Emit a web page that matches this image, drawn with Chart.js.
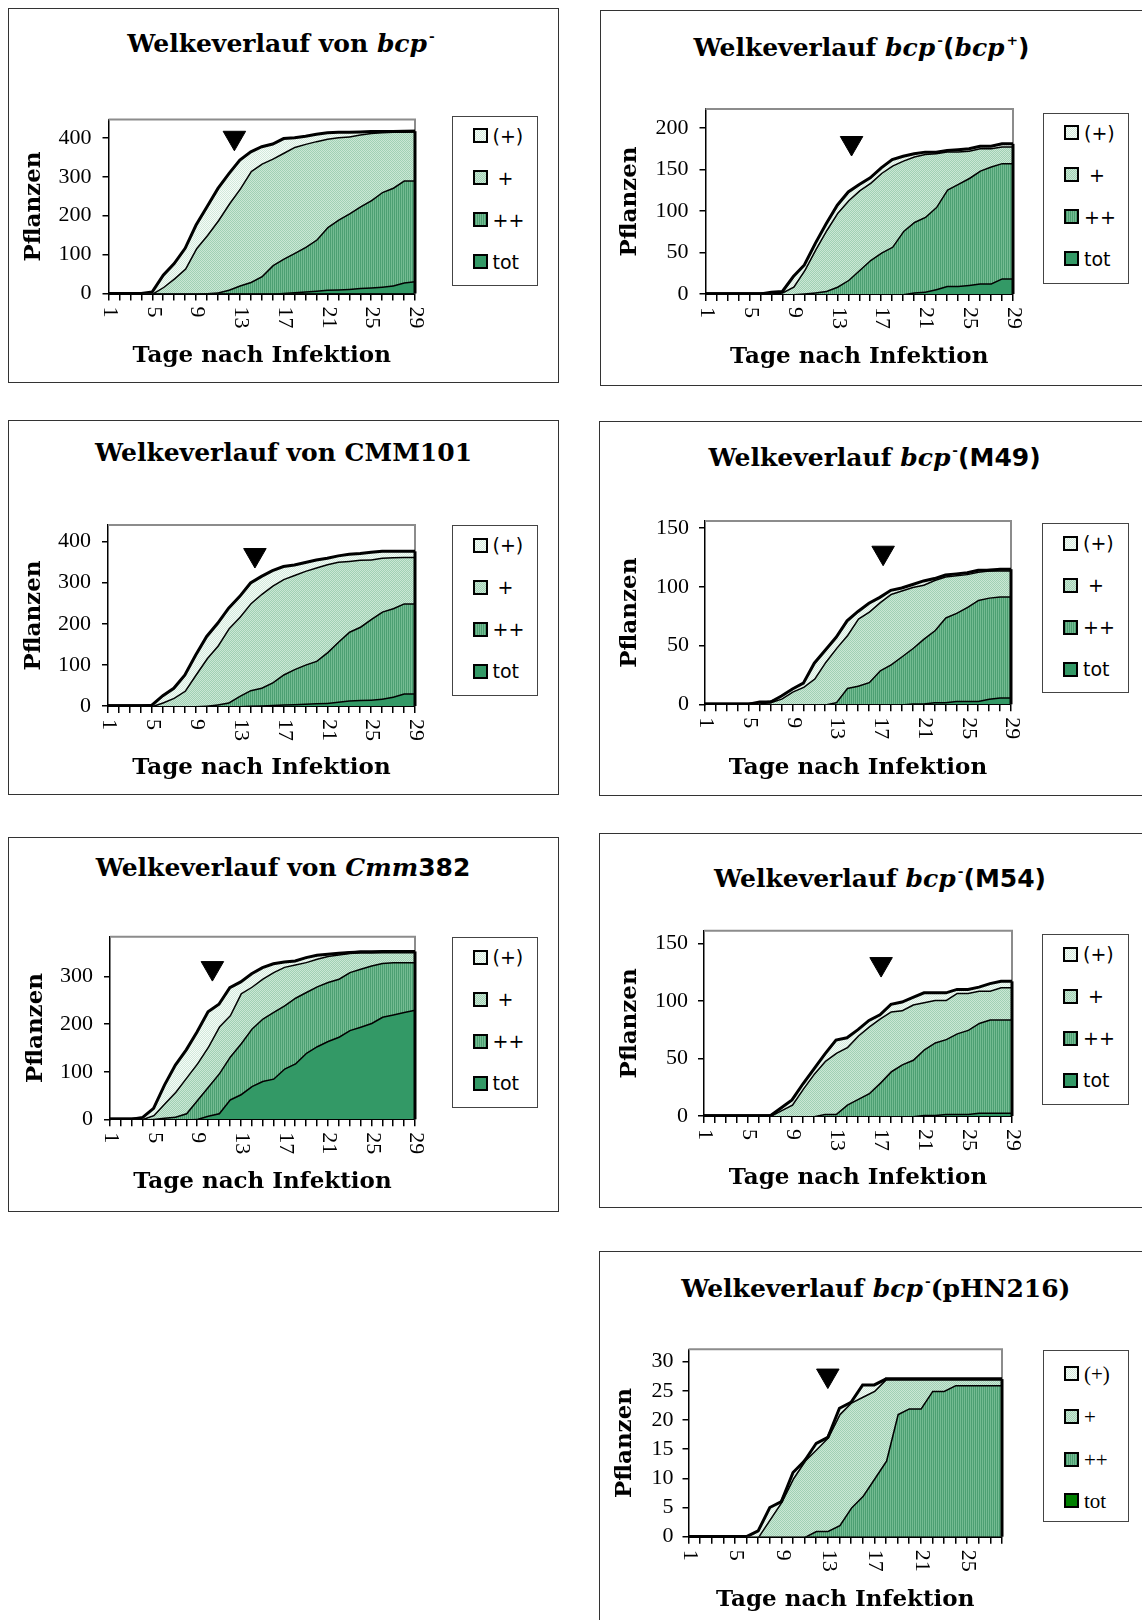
<!DOCTYPE html>
<html>
<head>
<meta charset="utf-8">
<script src="https://cdn.jsdelivr.net/npm/chart.js@4.4.1/dist/chart.umd.min.js"></script>
<style>
  body { margin: 0; background: #fff; width: 1142px; height: 1620px; overflow: hidden; position: relative; }
  .box { position: absolute; border: 1.5px solid #333; box-sizing: border-box; }
  .title { position: absolute; transform: translate(-50%, -50%); white-space: nowrap;
           font: bold 25px "DejaVu Serif", serif; color: #000; }
  .title sup { font-size: 55%; vertical-align: 0.8em; line-height: 0; margin-left: 2px; }
  .sans { font-family: "DejaVu Sans", sans-serif; }
  .legend { position: absolute; border: 1.5px solid #444; box-sizing: border-box; background: #fff; }
  .legend .sw { position: absolute; width: 15px; height: 15px; border: 2.5px solid #000; box-sizing: border-box; }
  .legend .lb { position: absolute; height: 22px; line-height: 22px; font: 19px "DejaVu Sans", sans-serif; color: #000; white-space: nowrap; }
  canvas { position: absolute; }
</style>
</head>
<body>
<script>
// ===== DATA =====
const days29 = ["1","2","3","4","5","6","7","8","9","10","11","12","13","14","15","16","17","18","19","20","21","22","23","24","25","26","27","28","29"];
const days28 = ["1","2","3","4","5","6","7","8","9","10","11","12","13","14","15","16","17","18","19","20","21","22","23","24","25","26","27","28"];
const seriesNames = ["(+)", "+", "++", "tot"];

// Welkeverlauf von bcp-
const p1_spur = [0,0,0,0,4,47,77,116,176,223,270,308,343,364,377,384,398,400,404,409,413,414,414,415,416,416,416,417,417];
const p1_plus = [0,0,0,0,0,17,39,64,116,150,188,231,270,315,334,347,362,377,385,392,398,402,404,409,413,415,416,416,417];
const p1_pp   = [0,0,0,0,0,0,0,0,0,1,3,10,21,30,45,73,90,105,120,139,171,190,206,224,240,261,272,291,291];
const p1_tot  = [0,0,0,0,0,0,0,0,0,0,0,0,0,0,0,0,2,4,6,8,10,11,12,15,16,18,21,29,32];

// Welkeverlauf bcp-(bcp+)
const p2_spur = [0,0,0,0,0,0,2,3,21,35,61,85,107,123,132,140,152,162,166,169,171,171,173,174,175,178,178,181,181];
const p2_plus = [0,0,0,0,0,0,1,2,9,29,54,77,98,113,125,134,146,155,161,166,169,170,172,172,173,176,176,178,178];
const p2_pp   = [0,0,0,0,0,0,0,0,0,1,2,4,9,17,29,41,50,57,76,87,93,105,126,133,140,149,154,158,158];
const p2_tot  = [0,0,0,0,0,0,0,0,0,0,0,0,0,0,0,0,0,0,0,2,3,6,10,10,11,13,13,19,19];

// Welkeverlauf von CMM101
const p3_spur = [0,0,0,0,2,25,43,75,124,169,201,238,266,299,315,329,339,343,349,355,359,365,369,371,374,376,376,376,376];
const p3_plus = [0,0,0,0,0,9,20,37,77,116,147,189,217,250,273,293,309,319,329,337,345,351,353,356,357,361,362,363,363];
const p3_pp   = [0,0,0,0,0,0,0,0,0,1,4,9,25,39,45,58,77,90,101,110,131,157,181,193,212,230,238,250,250];
const p3_tot  = [0,0,0,0,0,0,0,0,0,0,0,0,0,1,2,3,4,5,6,7,8,11,14,15,16,18,23,31,31];

// Welkeverlauf bcp-(M49)
const p4_spur = [0,0,0,0,0,2,2,7,13,18,35,46,57,71,79,86,91,97,99,102,105,107,110,111,112,114,114,115,115];
const p4_plus = [0,0,0,0,0,1,2,5,11,15,22,36,48,59,73,79,87,94,97,100,102,106,109,110,111,113,114,114,114];
const p4_pp   = [0,0,0,0,0,0,0,0,0,0,0,0,2,14,16,19,29,34,41,48,56,63,74,78,83,89,91,92,92];
const p4_tot  = [0,0,0,0,0,0,0,0,0,0,0,0,0,0,0,0,0,0,0,1,1,2,2,3,3,3,5,6,6];

// Welkeverlauf von Cmm382
const p5_spur = [0,0,0,4,23,72,114,146,184,226,242,277,289,306,319,327,331,333,340,345,347,349,351,352,352,353,353,353,353];
const p5_plus = [0,0,0,1,9,34,58,88,118,153,195,219,265,279,296,310,321,326,331,338,344,347,350,352,352,352,352,352,352];
const p5_pp   = [0,0,0,0,1,4,6,13,41,69,97,132,160,191,212,226,240,256,268,280,289,296,310,317,324,329,331,331,331];
const p5_tot  = [0,0,0,0,0,0,0,0,1,8,13,42,53,70,81,86,107,118,140,154,165,174,188,195,203,216,221,226,231];

// Welkeverlauf bcp-(M54)
const p6_spur = [0,0,0,0,0,0,0,7,14,28,41,54,66,68,75,83,88,97,99,103,107,107,107,110,110,112,115,117,117];
const p6_plus = [0,0,0,0,0,0,0,5,10,24,37,48,55,60,70,78,85,91,92,97,99,101,101,107,107,109,109,112,112];
const p6_pp   = [0,0,0,0,0,0,0,0,0,0,0,2,2,10,15,20,29,39,45,49,58,64,67,72,75,81,84,84,84];
const p6_tot  = [0,0,0,0,0,0,0,0,0,0,0,0,0,0,0,0,0,0,0,0,1,1,2,2,2,3,3,3,3];

// Welkeverlauf bcp-(pHN216)
const p7_spur = [0,0,0,0,0,0,1,5,6,11,13,16,17,22,23,26,26,27,27,27,27,27,27,27,27,27,27,27];
const p7_plus = [0,0,0,0,0,0,0,3,6,10,13,15,17,21,23,24,25,27,27,27,27,27,27,27,27,27,27,27];
const p7_pp   = [0,0,0,0,0,0,0,0,0,0,0,1,1,2,5,7,10,13,21,22,22,25,25,26,26,26,26,26];
const p7_tot  = [0,0,0,0,0,0,0,0,0,0,0,0,0,0,0,0,0,0,0,0,0,0,0,0,0,0,0,0];

// y axis ranges and the arrow marker (day, value) per panel
const yMax  = [447, 223, 440, 156, 384, 161, 32.1];
const yStep = [100, 50, 100, 50, 100, 50, 5];
const markerDay   = [12.5, 14.3, 14.4, 17.3, 10.4, 17.1, 13.0];
const markerValue = [400, 182, 367, 129, 318, 132, 27.6];

// ===== LAYOUT =====
const panels = [
  { title: 'Welkeverlauf von <i>bcp</i><sup>-</sup>', labels: days29, data: [p1_spur, p1_plus, p1_pp, p1_tot],
    box: [8, 8, 551, 375], plot: [108.5, 119.5, 421, 293.5], tt: [281, 43], xt: 356, yt: 34.5, tickPad: 11,
    legend: [451.5, 115.5, 86, 170] },
  { title: 'Welkeverlauf <i>bcp</i><sup>-</sup><span class="sans">(</span><i>bcp</i><sup>+</sup><span class="sans">)</span>', labels: days29, data: [p2_spur, p2_plus, p2_pp, p2_tot],
    box: [600, 10, 560, 376], plot: [705.5, 109, 1019, 294], tt: [861.5, 46.5], xt: 357, yt: 630, tickPad: 11,
    legend: [1043, 112.7, 86, 171] },
  { title: 'Welkeverlauf von CMM101', labels: days29, data: [p3_spur, p3_plus, p3_pp, p3_tot],
    box: [8, 420, 551, 375], plot: [108, 525, 421, 706], tt: [283.5, 451.7], xt: 768, yt: 34.5, tickPad: 11,
    legend: [451.5, 525, 86, 171] },
  { title: 'Welkeverlauf <i>bcp</i><sup>-</sup><span class="sans">(M49)</span>', labels: days29, data: [p4_spur, p4_plus, p4_pp, p4_tot],
    box: [599, 421, 560, 375], plot: [705, 521, 1017, 704.3], tt: [874.6, 456.7], xt: 767.7, yt: 630, tickPad: 10,
    legend: [1042, 523.3, 87, 170] },
  { title: 'Welkeverlauf von&nbsp;<i>Cmm</i><span class="sans">382</span>', labels: days29, data: [p5_spur, p5_plus, p5_pp, p5_tot],
    box: [8, 837, 551, 375], plot: [110, 936.7, 421, 1119.3], tt: [283, 867.3], xt: 1181.7, yt: 36, tickPad: 11,
    legend: [451.5, 937.3, 86, 171] },
  { title: 'Welkeverlauf <i>bcp</i><sup>-</sup><span class="sans">(M54)</span>', labels: days29, data: [p6_spur, p6_plus, p6_pp, p6_tot],
    box: [599, 832.7, 560, 375], plot: [704, 930.7, 1017.7, 1116], tt: [880, 878.3], xt: 1178.3, yt: 630, tickPad: 10,
    legend: [1042, 934.3, 87, 171] },
  { title: 'Welkeverlauf <i>bcp</i><sup>-</sup>(pHN216)', labels: days28, data: [p7_spur, p7_plus, p7_pp, p7_tot],
    box: [599, 1251, 560, 420], plot: [688.5, 1349.3, 1007.6, 1536.7], tt: [875.8, 1288.3], xt: 1600, yt: 624.6, tickPad: 9,
    legend: [1043, 1350, 86, 172], serifLegend: true }
];

// ===== FILL PATTERNS =====
function patternCanvas(bg, fg, kind) {
  const c = document.createElement('canvas');
  c.width = c.height = 4;
  const g = c.getContext('2d');
  g.fillStyle = bg;
  g.fillRect(0, 0, 4, 4);
  g.fillStyle = fg;
  if (kind === 'checker') {
    [[0,0],[2,0],[1,1],[3,1],[0,2],[2,2],[1,3],[3,3]].forEach(p => g.fillRect(p[0], p[1], 1, 1));
  } else if (kind === 'vstripe') {
    g.fillRect(0, 0, 1, 4);
    g.fillRect(2, 0, 1, 4);
  }
  return c;
}
const patSpur = patternCanvas('#f6fbf8', '#d2eadb', 'checker');
const patPlus = patternCanvas('#cbe7d5', '#a0d1b4', 'checker');
const patPP   = patternCanvas('#74bb92', '#4c9f72', 'vstripe');
const totColor = '#339966';

const pctx = document.createElement('canvas').getContext('2d');
const fills = [
  pctx.createPattern(patSpur, 'repeat'),
  pctx.createPattern(patPlus, 'repeat'),
  pctx.createPattern(patPP, 'repeat'),
  totColor
];

// ===== PLUGINS =====
const framePlugin = {
  id: 'frame',
  beforeDatasetsDraw(chart) {
    const a = chart.chartArea, ctx = chart.ctx;
    ctx.save();
    ctx.strokeStyle = '#8c8c8c';
    ctx.lineWidth = 2;
    ctx.beginPath();
    ctx.moveTo(a.left, a.top);
    ctx.lineTo(a.right, a.top);
    ctx.lineTo(a.right, a.bottom);
    ctx.stroke();
    ctx.restore();
  },
  afterDatasetsDraw(chart) {
    // black closing edge of the areas at the last day
    const a = chart.chartArea, ctx = chart.ctx;
    const top = chart.data.datasets[0].data;
    const y = chart.scales.y.getPixelForValue(top[top.length - 1]);
    ctx.save();
    ctx.strokeStyle = '#000';
    ctx.lineWidth = 3;
    ctx.beginPath();
    ctx.moveTo(a.right, y);
    ctx.lineTo(a.right, a.bottom);
    ctx.stroke();
    ctx.restore();
  }
};

// x labels turned 90 deg clockwise, every 4th day
const dayLabelPlugin = {
  id: 'dayLabels',
  afterDraw(chart) {
    const x = chart.scales.x, ctx = chart.ctx;
    ctx.save();
    ctx.font = '22px "Liberation Serif"';
    ctx.fillStyle = '#000';
    ctx.textAlign = 'left';
    ctx.textBaseline = 'middle';
    chart.data.labels.forEach((lab, i) => {
      if (i % 4) return;
      ctx.save();
      ctx.translate(x.getPixelForTick(i) + 1, x.top + 13);
      ctx.rotate(Math.PI / 2);
      ctx.fillText(lab, 0, 0);
      ctx.restore();
    });
    ctx.restore();
  }
};

// ===== BUILD PANELS =====
function addDiv(cls, x, y, w, h, html) {
  const d = document.createElement('div');
  d.className = cls;
  d.style.left = x + 'px';
  d.style.top = y + 'px';
  if (w != null) d.style.width = w + 'px';
  if (h != null) d.style.height = h + 'px';
  if (html) d.innerHTML = html;
  document.body.appendChild(d);
  return d;
}

const axisFont = { family: 'DejaVu Serif', weight: 'bold', size: 23 };
const halfLine = 23 * 1.2 / 2;

panels.forEach((p, i) => {
  addDiv('box', p.box[0], p.box[1], p.box[2], p.box[3]);
  addDiv('title', p.tt[0], p.tt[1], null, null, p.title);

  // legend
  const lg = addDiv('legend', p.legend[0], p.legend[1], p.legend[2], p.legend[3]);
  const rows = p.serifLegend ? [22, 65, 108, 149] : [19, 61, 103, 145];
  const swatches = [patSpur.toDataURL(), patPlus.toDataURL(), patPP.toDataURL(), null];
  seriesNames.forEach((name, k) => {
    const sw = document.createElement('div');
    sw.className = 'sw';
    sw.style.left = '20px';
    sw.style.top = (rows[k] - 7.5) + 'px';
    if (swatches[k]) sw.style.background = 'url(' + swatches[k] + ')';
    else sw.style.background = p.serifLegend ? '#008000' : totColor;
    lg.appendChild(sw);
    const lb = document.createElement('div');
    lb.className = 'lb';
    lb.textContent = name;
    lb.style.top = (rows[k] - 11) + 'px';
    lb.style.left = '40px';
    if (p.serifLegend) {
      lb.style.font = '21px "Liberation Serif", serif';
    } else if (k < 3) {
      lb.style.width = '26px';
      lb.style.textAlign = 'center';
    }
    lg.appendChild(lb);
  });

  // chart canvas
  const cl = Math.round(p.box[0] + 2);
  const ct = Math.round(p.plot[1] - 28);
  const cr = Math.round(p.plot[2] + 8);
  const cb = Math.round(p.xt + 19);
  const cv = document.createElement('canvas');
  cv.width = cr - cl;
  cv.height = cb - ct;
  cv.style.left = cl + 'px';
  cv.style.top = ct + 'px';
  cv.style.width = (cr - cl) + 'px';
  cv.style.height = (cb - ct) + 'px';
  document.body.appendChild(cv);

  const datasets = p.data.map((vals, k) => ({
    label: seriesNames[k],
    data: vals,
    fill: k < 3 ? '+1' : 'origin',
    backgroundColor: fills[k],
    borderColor: '#000',
    borderWidth: 3,
    pointRadius: 0,
    tension: 0
  }));
  datasets.push({
    type: 'scatter',
    label: 'marker',
    xAxisID: 'x2',
    data: [{ x: markerDay[i], y: markerValue[i] }],
    pointStyle: 'triangle',
    pointRotation: 180,
    pointRadius: 13,
    pointBackgroundColor: '#000',
    pointBorderColor: '#000',
    pointBorderWidth: 1,
    showLine: false,
    fill: false
  });

  new Chart(cv, {
    type: 'line',
    data: { labels: p.labels, datasets: datasets },
    options: {
      responsive: false,
      animation: false,
      layout: { padding: { top: p.plot[1] - ct, right: cr - p.plot[2], left: 0, bottom: 0 } },
      plugins: { legend: { display: false }, tooltip: { enabled: false } },
      scales: {
        x: {
          type: 'category',
          offset: false,
          grid: { drawOnChartArea: false, drawTicks: true, tickLength: 7, color: '#000', lineWidth: 1.5 },
          border: { display: true, color: '#000', width: 2 },
          ticks: { display: false },
          title: {
            display: true, text: 'Tage nach Infektion', color: '#000', font: axisFont,
            padding: { top: 0, bottom: (cb - p.xt) - halfLine }
          },
          afterFit: s => { s.height = cb - p.plot[3]; }
        },
        x2: { type: 'linear', display: false, min: 1, max: p.labels.length },
        y: {
          min: 0,
          max: yMax[i],
          grid: { drawOnChartArea: false, drawTicks: true, tickLength: 6, color: '#000', lineWidth: 1.5 },
          border: { display: true, color: '#000', width: 1.5 },
          ticks: {
            stepSize: yStep[i], includeBounds: false, padding: p.tickPad, color: '#000',
            font: { family: 'Liberation Serif', size: 22 }
          },
          title: {
            display: true, text: 'Pflanzen', color: '#000', font: axisFont,
            padding: { top: p.yt - cl - halfLine, bottom: 0 }
          },
          afterFit: s => { s.width = p.plot[0] - cl; }
        }
      }
    },
    plugins: [framePlugin, dayLabelPlugin]
  });
});
</script>
</body>
</html>
